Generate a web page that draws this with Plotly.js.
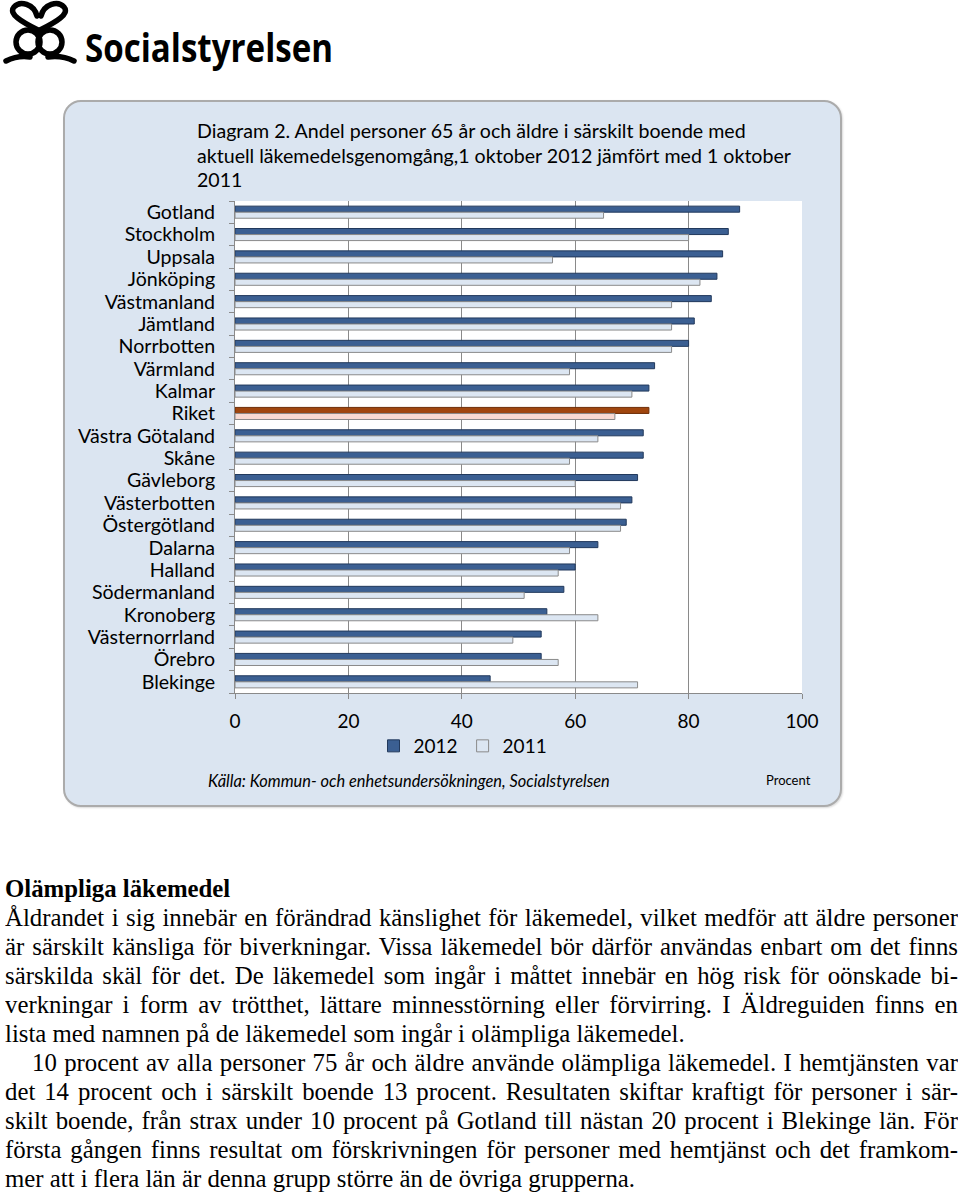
<!DOCTYPE html>
<html>
<head>
<meta charset="utf-8">
<script src="https://cdn.plot.ly/plotly-3.0.1.min.js"></script>
<style>
  html, body { margin:0; padding:0; background:#ffffff; }
  body { width:960px; height:1195px; position:relative; overflow:hidden; }
  #box { position:absolute; left:63px; top:100px; width:775px; height:703px;
         background:#dbe5f1; border:2px solid #ababab; border-radius:18px;
         box-shadow: 1px 1px 2px rgba(0,0,0,0.15); }
  #chart { position:absolute; left:0; top:0; width:960px; height:830px; }
  #logo { position:absolute; left:0; top:0; }
  #text { position:absolute; left:5px; top:873.5px; width:953px;
          font-family:'Liberation Serif','Times New Roman',serif; font-size:24.8px; color:#000; }
  #text div { height:29.1px; line-height:29.1px; white-space:nowrap; }
  #text .j { text-align:justify; text-align-last:justify; white-space:normal; overflow:hidden; }
  #text .h { font-weight:bold; }
  #text .ind { padding-left:27px; }
</style>
</head>
<body>
<svg id="logo" width="560" height="90" viewBox="0 0 560 90">
  <g fill="none" stroke="#000" stroke-width="5.5" stroke-linecap="round">
    <path d="M38 30 C 22 22, 8 14, 14 7 C 20 0, 34 4, 37 16"/>
    <path d="M40 30 C 56 22, 70 14, 64 7 C 58 0, 44 4, 41 16"/>
    <circle cx="28" cy="42" r="12"/>
    <circle cx="50" cy="42" r="12"/>
    <path d="M6 61 Q 18 55 30 57"/>
    <path d="M48 57 Q 62 55 74 61"/>
  </g>
  <text x="85" y="62" font-family="'Open Sans','Liberation Sans',sans-serif" font-weight="bold"
        font-size="40" textLength="248" lengthAdjust="spacingAndGlyphs" fill="#000">Socialstyrelsen</text>
</svg>
<div id="box"></div>
<div id="chart"></div>
<div id="text">
  <div class="h">Olämpliga läkemedel</div>
  <div class="j">Åldrandet i sig innebär en förändrad känslighet för läkemedel, vilket medför att äldre personer</div>
  <div class="j">är särskilt känsliga för biverkningar. Vissa läkemedel bör därför användas enbart om det finns</div>
  <div class="j">särskilda skäl för det. De läkemedel som ingår i måttet innebär en hög risk för oönskade bi-</div>
  <div class="j">verkningar i form av trötthet, lättare minnesstörning eller förvirring. I Äldreguiden finns en</div>
  <div>lista med namnen på de läkemedel som ingår i olämpliga läkemedel.</div>
  <div class="j ind">10 procent av alla personer 75 år och äldre använde olämpliga läkemedel. I hemtjänsten var</div>
  <div class="j">det 14 procent och i särskilt boende 13 procent. Resultaten skiftar kraftigt för personer i sär-</div>
  <div class="j">skilt boende, från strax under 10 procent på Gotland till nästan 20 procent i Blekinge län. För</div>
  <div class="j">första gången finns resultat om förskrivningen för personer med hemtjänst och det framkom-</div>
  <div>mer att i flera län är denna grupp större än de övriga grupperna.</div>
</div>
<script>
const categories = ["Gotland","Stockholm","Uppsala","Jönköping","Västmanland","Jämtland","Norrbotten",
  "Värmland","Kalmar","Riket","Västra Götaland","Skåne","Gävleborg","Västerbotten","Östergötland",
  "Dalarna","Halland","Södermanland","Kronoberg","Västernorrland","Örebro","Blekinge"];
const values2012 = [89,87,86,85,84,81,80,74,73,73,72,72,71,70,69,64,60,58,55,54,54,45];
const values2011 = [65,80,56,82,77,77,77,59,70,67,64,59,60,68,68,59,57,51,64,49,57,71];
const xTicks = [0,20,40,60,80,100];
const titleLines = [
  "Diagram 2. Andel personer 65 år och äldre i särskilt boende med",
  "aktuell läkemedelsgenomgång,1 oktober 2012 jämfört med 1 oktober",
  "2011"
];
const sourceText = "Källa: Kommun- och enhetsundersökningen, Socialstyrelsen";
const unitText = "Procent";

const highlight = "Riket";
const c12 = categories.map(c => c === highlight ? "#a0460e" : "#3b5f92");
const l12 = categories.map(c => c === highlight ? "#6e2e08" : "#22395c");
const c11 = categories.map(c => c === highlight ? "#f8dad2" : "#dce6f2");

const FONT = "Lato, 'Open Sans', sans-serif";
// pixel -> paper helpers (plot area: x 235..802, y 201..693)
const PL = 235, PW = 567, PT = 201, PH = 492;
const px = x => (x - PL) / PW;
const py = y => (PT + PH - y) / PH;

const traces = [
  { type:"bar", orientation:"h", name:"2012", y:categories, x:values2012,
    marker:{ color:c12, line:{ color:l12, width:1 } }, hoverinfo:"x+y" },
  { type:"bar", orientation:"h", name:"2011", y:categories, x:values2011,
    marker:{ color:c11, line:{ color:"#8a8a8a", width:1 } }, hoverinfo:"x+y" }
];

const annotations = titleLines.map((t, i) => ({
  text:t, xref:"paper", yref:"paper", x:px(195), y:py(130 + 25*i),
  xanchor:"left", yanchor:"middle", showarrow:false, font:{ family:FONT, size:19.6, color:"#000" }
}));
annotations.push({ text:"<i>" + sourceText + "</i>", xref:"paper", yref:"paper", x:px(206), y:py(780),
  xanchor:"left", yanchor:"middle", showarrow:false, font:{ family:FONT, size:16.4, color:"#000" } });
annotations.push({ text:unitText, xref:"paper", yref:"paper", x:px(764), y:py(780),
  xanchor:"left", yanchor:"middle", showarrow:false, font:{ family:FONT, size:13, color:"#000" } });

const layout = {
  width:960, height:830,
  margin:{ l:235, r:158, t:201, b:137, pad:0 },
  paper_bgcolor:"rgba(0,0,0,0)", plot_bgcolor:"#ffffff",
  font:{ family:FONT, size:19, color:"#000" },
  barmode:"group", bargap:0.46, bargroupgap:0,
  showlegend:true,
  legend:{ orientation:"h", x:px(463), y:py(746), xanchor:"center", yanchor:"middle",
           bgcolor:"rgba(0,0,0,0)", font:{ family:FONT, size:19, color:"#000" },
           itemwidth:30, traceorder:"normal", itemclick:false },
  xaxis:{ range:[0,100], tickvals:xTicks, ticktext:xTicks.map(String), showgrid:true,
          gridcolor:"#8a8a8a", gridwidth:1, zeroline:false, showline:true, linecolor:"#8a8a8a",
          linewidth:1, ticks:"outside", ticklen:5, tickcolor:"#8a8a8a", ticklabelstandoff:6,
          tickfont:{ family:FONT, size:19, color:"#000" }, fixedrange:true },
  yaxis:{ type:"category", autorange:"reversed", showgrid:false, zeroline:false,
          tickmode:"array", tickvals:categories, ticktext:categories,
          showline:true, linecolor:"#8a8a8a", linewidth:1, ticks:"outside", ticklen:5,
          tickcolor:"#8a8a8a", tickson:"boundaries", ticklabelstandoff:15,
          tickfont:{ family:FONT, size:19.6, color:"#000" }, fixedrange:true },
  annotations:annotations
};

Plotly.newPlot("chart", traces, layout, { displayModeBar:false, staticPlot:true });
</script>
</body>
</html>
